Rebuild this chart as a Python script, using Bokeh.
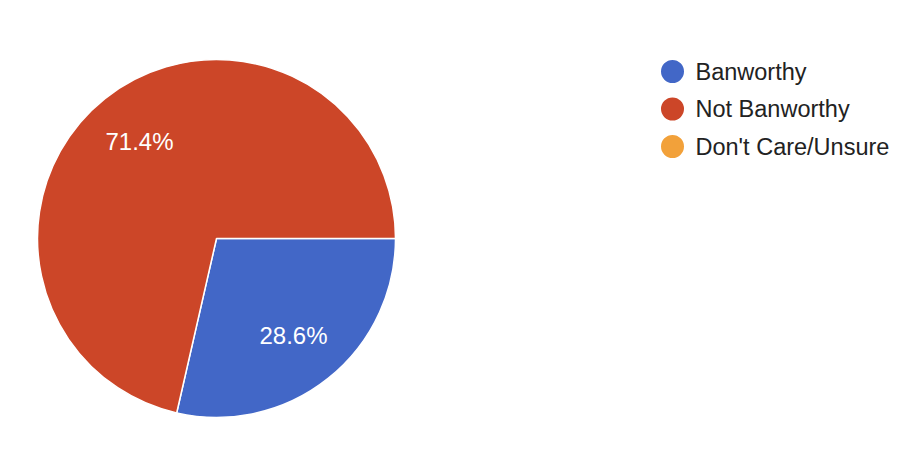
import math
from bokeh.plotting import figure
from bokeh.models import ColumnDataSource
from bokeh.core.properties import value
from bokeh.embed import file_html
from bokeh.resources import INLINE

categories = ["Banworthy", "Not Banworthy", "Don't Care/Unsure"]
counts = [2, 5, 0]
colors = ["#4267c7", "#cc4628", "#f2a13a"]

W, H = 906, 436
p = figure(width=W, height=H, x_range=(0, W), y_range=(0, H),
           output_backend="svg", toolbar_location=None, min_border=0)
p.axis.visible = False
p.grid.visible = False
p.outline_line_color = None
p.background_fill_color = "white"

cx, cy, r = 216, H - 238, 179
total = sum(counts)
starts, ends, cols, lx, ly, labs = [], [], [], [], [], []
cum = 0.0
for c, col in zip(counts, colors):
    frac = c / total
    a0 = 2 * math.pi * cum
    a1 = 2 * math.pi * (cum + frac)
    cum += frac
    if c == 0:
        continue
    starts.append(-a0)
    ends.append(-a1)
    cols.append(col)
    mid = -(a0 + a1) / 2
    lx.append(cx + 0.69 * r * math.cos(mid))
    ly.append(cy + 0.69 * r * math.sin(mid))
    labs.append(f"{frac * 100:.1f}%")

src = ColumnDataSource(dict(s=starts, e=ends, c=cols))
p.wedge(x=cx, y=cy, radius=r, start_angle="s", end_angle="e", direction="clock",
        fill_color="c", line_color="white", line_width=1.5, source=src)
p.text(x=lx, y=ly, text=labs, text_color="white", text_font=value("Liberation Sans"),
       text_font_size="24px", text_align="center", text_baseline="middle")

# legend
leg_x, leg_y0, leg_dy = 672, H - 71, 37.5
ys = [leg_y0 - i * leg_dy for i in range(len(categories))]
p.scatter(x=[leg_x] * len(categories), y=ys, size=23, fill_color=colors, line_color=None)
p.text(x=[leg_x + 23] * len(categories), y=ys, text=categories, text_color="#222222",
       text_font=value("Liberation Sans"), text_font_size="23.5px",
       text_align="left", text_baseline="middle")

open("out.html", "w").write(file_html(p, INLINE))
